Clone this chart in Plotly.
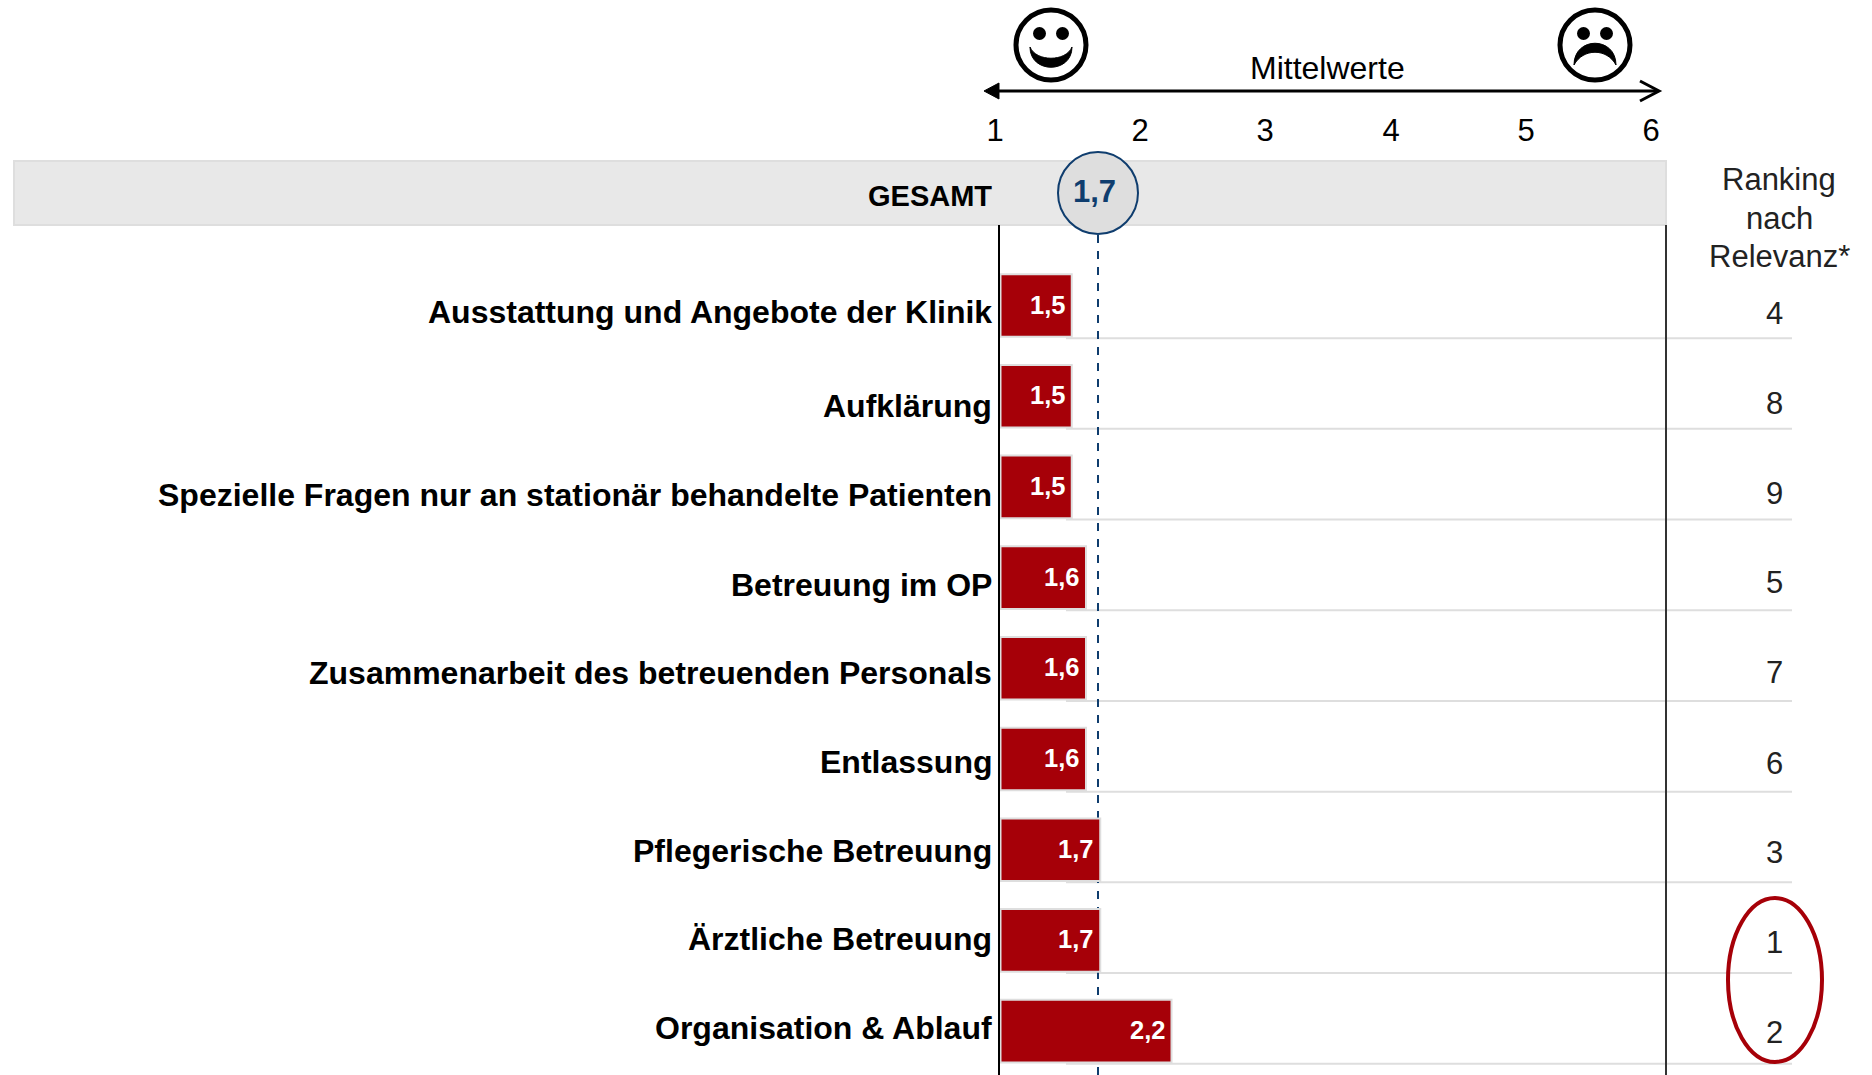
import plotly.graph_objects as go

categories = ["Ausstattung und Angebote der Klinik", "Aufklärung",
              "Spezielle Fragen nur an stationär behandelte Patienten", "Betreuung im OP",
              "Zusammenarbeit des betreuenden Personals", "Entlassung",
              "Pflegerische Betreuung", "Ärztliche Betreuung", "Organisation & Ablauf"]
values = [1.5, 1.5, 1.5, 1.6, 1.6, 1.6, 1.7, 1.7, 2.2]
ranking = [4, 8, 9, 5, 7, 6, 3, 1, 2]
overall = 1.7
tick_labels = ["1", "2", "3", "4", "5", "6"]
tick_pixels = [995, 1140, 1265, 1391, 1526, 1651]
ranking_title = ["Ranking", "nach", "Relevanz*"]
label_shift = [6, 10, 8, 7, 5, 3, 1, -1, -3]
rank_shift = [8, 7, 7, 5, 4, 4, 3, 2, 1]

W, H = 1872, 1075
FONT = "Liberation Sans"
RED, NAVY, GREY = "#a60008", "#0f3d6e", "#dedede"
X0, X1 = 986, 1666          # pixel span of the x axis
SCALE = 142.5               # pixels per unit
ORIGIN = 1000.5
XMIN = 1 - (ORIGIN - X0) / SCALE
XMAX = 1 + (X1 - ORIGIN) / SCALE
ROW0, PITCH = 305.5, 90.7
px = lambda p: p / W
py = lambda p: 1 - p / H
dx = lambda p: 1 + (p - ORIGIN) / SCALE

fig = go.Figure(go.Bar(
    y=categories, x=[v - 1 for v in values], base=1, orientation="h", width=0.69,
    marker=dict(color=RED, line=dict(color=GREY, width=2)),
    hoverinfo="skip", cliponaxis=False))

shapes, notes = [], []


def pshape(kind="rect", **k):
    d = dict(type=kind, xref="paper", yref="paper", layer="above")
    d.update(k)
    shapes.append(d)


def box(kind, x0, y0, x1, y1, **k):
    pshape(kind, x0=px(x0), x1=px(x1), y0=py(y0), y1=py(y1), **k)


def path(points, **k):
    out = []
    for item in points:
        if isinstance(item, str):
            out.append(item)
        else:
            out.append(f"{px(item[0]):.5f},{py(item[1]):.5f}")
    pshape("path", path=" ".join(out), **k)


def note(text, x, y, size=31, color="black", bold=False, anchor="center"):
    notes.append(dict(text=text, xref="paper", yref="paper", x=px(x), y=py(y), showarrow=False,
                      xanchor=anchor, yanchor="middle",
                      font=dict(family=FONT, size=size, color=color, weight="bold" if bold else "normal")))


box("rect", 14, 161, 1666, 225, fillcolor="#e8e8e8", line=dict(color=GREY, width=2), layer="below")
for i in range(len(categories)):
    shapes.append(dict(type="line", xref="paper", yref="y", x0=px(1066), x1=px(1792), y0=i + 0.36, y1=i + 0.36,
                       line=dict(color=GREY, width=2), layer="below"))
shapes.append(dict(type="line", xref="paper", yref="paper", x0=px(1098), x1=px(1098), y0=0, y1=py(234),
                   line=dict(color=NAVY, width=2, dash="8px,8px"), layer="below"))
box("line", 999, 225, 999, 1075, line=dict(color="black", width=2))
box("line", 1666, 225, 1666, 1075, line=dict(color="#333333", width=2))
box("circle", 1058, 152, 1138, 234, fillcolor=GREY, line=dict(color=NAVY, width=2))
box("circle", 1728, 898, 1822, 1062, line=dict(color=RED, width=4))
box("line", 995, 91, 1658, 91, line=dict(color="black", width=3))
path(["M", (984, 91), "L", (999, 83), "L", (999, 99), "Z"], fillcolor="black", line=dict(color="black", width=1))
path(["M", (1640, 81), "L", (1659, 91), "L", (1640, 101)], line=dict(color="black", width=3))
for cx, mouth in ((1051, "smile"), (1595, "frown")):
    box("circle", cx - 35, 10, cx + 35, 80, line=dict(color="black", width=5))
    for ex in (cx - 11.5, cx + 11.5):
        box("circle", ex - 6.5, 27, ex + 6.5, 40, fillcolor="black", line=dict(width=0))
    if mouth == "smile":
        path(["M", (cx - 21, 47), "C", (cx - 21, 74), (cx + 21, 74), (cx + 21, 47),
              "C", (cx + 15, 62), (cx - 15, 62), (cx - 21, 47), "Z"],
             fillcolor="black", line=dict(color="black", width=1))
    else:
        path(["M", (cx - 21, 65), "C", (cx - 21, 36), (cx + 21, 36), (cx + 21, 65),
              "C", (cx + 12, 48), (cx - 12, 48), (cx - 21, 65), "Z"],
             fillcolor="black", line=dict(color="black", width=1))

note("Mittelwerte", 1327, 68, size=32)
note("GESAMT", 994, 196, size=29, bold=True, anchor="right")
note("1,7", 1094, 192, size=31, color=NAVY, bold=True)
for line, y in zip(ranking_title, (180, 218, 256)):
    note(line, 1779, y, color="#222222")

for i, (c, r, v) in enumerate(zip(categories, ranking, values)):
    notes.append(dict(text=c, xref="paper", yref="y", x=px(994), y=i, yshift=-label_shift[i], showarrow=False,
                      xanchor="right", yanchor="middle",
                      font=dict(family=FONT, size=32, color="black", weight="bold")))
    notes.append(dict(text=str(r), xref="paper", yref="y", x=px(1774), y=i, yshift=-rank_shift[i], showarrow=False,
                      xanchor="center", yanchor="middle",
                      font=dict(family=FONT, size=31, color="#222222")))
    notes.append(dict(text=f"{v:.1f}".replace(".", ","), xref="x", yref="y", x=v, y=i, xshift=-5, yshift=1,
                      showarrow=False, xanchor="right", yanchor="middle",
                      font=dict(family=FONT, size=25.5, color="white", weight="bold")))

fig.update_layout(
    width=W, height=H, margin=dict(l=0, r=0, t=0, b=0), autosize=False,
    paper_bgcolor="white", plot_bgcolor="rgba(0,0,0,0)", showlegend=False,
    shapes=shapes, annotations=notes, font=dict(family=FONT),
    xaxis=dict(domain=[px(X0), px(X1)], range=[XMIN, XMAX], side="top", anchor="free", position=py(147),
               tickmode="array", tickvals=[dx(p) for p in tick_pixels], ticktext=tick_labels,
               tickfont=dict(family=FONT, size=31, color="black"), showgrid=False, zeroline=False,
               showline=False, ticks=""),
    yaxis=dict(domain=[0, py(225)], type="category", categoryorder="array", categoryarray=categories,
               range=[(H - ROW0) / PITCH, (225 - ROW0) / PITCH], showticklabels=False, showgrid=False,
               zeroline=False, showline=False, ticks=""),
)

fig.write_html("out.html", config=dict(displayModeBar=False),
               post_script="document.body.style.margin='0';document.body.style.overflow='hidden';")
